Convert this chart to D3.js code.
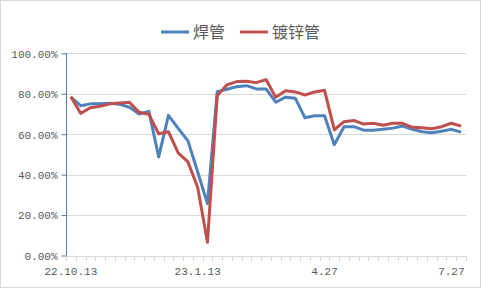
<!DOCTYPE html>
<html lang="zh">
<head>
<meta charset="UTF-8">
<title>焊管 镀锌管</title>
<script src="https://d3js.org/d3.v7.min.js"></script>
<style>
body { margin: 0; background: #fff; }
.tick-label { font-family: "Liberation Mono", "DejaVu Sans Mono", monospace; font-size: 11px; fill: #595959; }
.legend-text { font-family: "Noto Sans CJK SC", sans-serif; font-size: 16px; fill: #595959; }
</style>
</head>
<body>
<div id="chart"></div>
<script>
// 数据（按图读取，单位 %）
var seriesNames = ["焊管", "镀锌管"];
var hanguan = [78.3, 74.1, 75.0, 75.1, 75.3, 74.8, 73.3, 70.0, 71.3, 48.8,
               69.3, 62.9, 56.7, 41.3, 25.7, 81.0, 82.2, 83.5, 84.0, 82.4,
               82.4, 75.8, 78.3, 77.8, 68.1, 69.1, 69.1, 54.8, 63.7, 63.7,
               62.0, 62.0, 62.4, 63.0, 64.0, 62.4, 61.2, 60.7, 61.5, 62.4, 61.0];
var duxinguan = [78.5, 70.3, 73.1, 73.8, 75.0, 75.4, 75.8, 70.8, 69.8, 60.2,
                 61.2, 50.8, 46.3, 33.6, 6.6, 79.0, 84.4, 86.0, 86.2, 85.5,
                 87.0, 78.3, 81.5, 80.9, 79.4, 80.9, 81.7, 62.2, 66.2, 66.8,
                 65.0, 65.4, 64.4, 65.4, 65.4, 63.4, 63.2, 62.7, 63.7, 65.4, 64.0];
var xLabelIndex = [0, 13, 26, 39];
var xLabels = ["22.10.13", "23.1.13", "4.27", "7.27"];
var yTicks = [0, 20, 40, 60, 80, 100];
var colors = ["#4f81bd", "#c0504d"];

var W = 482, H = 290;
var mLeft = 66, mRight = 466, mTop = 53.3, mBottom = 255.5;

var svg = d3.select("#chart").append("svg")
    .attr("width", W)
    .attr("height", H);

// 外框
svg.append("rect")
    .attr("x", 0.5).attr("y", 0.5)
    .attr("width", W - 2).attr("height", H - 3)
    .attr("fill", "#fff")
    .attr("stroke", "#d9d9d9");

var idx = d3.range(hanguan.length);
var x = d3.scalePoint().domain(idx).range([mLeft, mRight]).padding(0.5);
var band = (mRight - mLeft) / idx.length;
var y = d3.scaleLinear().domain([0, 100]).range([mBottom, mTop]);

// 网格线
svg.append("g")
    .selectAll("line")
    .data(yTicks.filter(function(d) { return d > 0; }))
    .enter().append("line")
    .attr("x1", mLeft).attr("x2", mRight)
    .attr("y1", function(d) { return Math.round(y(d)) + 0.5; })
    .attr("y2", function(d) { return Math.round(y(d)) + 0.5; })
    .attr("stroke", "#d9d9d9");

// x 轴
svg.append("line")
    .attr("x1", mLeft).attr("x2", mRight)
    .attr("y1", Math.round(mBottom) + 0.5).attr("y2", Math.round(mBottom) + 0.5)
    .attr("stroke", "#d9d9d9");
svg.append("g")
    .selectAll("line")
    .data(d3.range(idx.length + 1))
    .enter().append("line")
    .attr("x1", function(i) { return Math.round(mLeft + i * band) + 0.5; })
    .attr("x2", function(i) { return Math.round(mLeft + i * band) + 0.5; })
    .attr("y1", Math.round(mBottom)).attr("y2", Math.round(mBottom) + 5)
    .attr("stroke", "#d9d9d9");

svg.append("g")
    .selectAll("text")
    .data(xLabelIndex)
    .enter().append("text")
    .attr("class", "tick-label")
    .attr("x", function(i) { return x(i); })
    .attr("y", 275)
    .attr("text-anchor", "middle")
    .text(function(d, k) { return xLabels[k]; });

// y 轴
var yAxis = d3.axisLeft(y)
    .tickValues(yTicks)
    .tickSize(5)
    .tickFormat(function(d) { return d.toFixed(2) + "%"; });
var gy = svg.append("g")
    .attr("transform", "translate(" + (mLeft + 0.5) + ",0)")
    .call(yAxis);
gy.select(".domain").attr("stroke", "#5b7ca6").attr("d", "M0," + mTop + "V" + mBottom);
gy.selectAll(".tick line").attr("stroke", "#5b7ca6");
gy.selectAll(".tick text")
    .attr("class", "tick-label")
    .attr("x", -9)
    .attr("dy", "0.35em");

// 折线
var line = d3.line()
    .x(function(d, i) { return x(i); })
    .y(function(d) { return y(d); });

[hanguan, duxinguan].forEach(function(s, k) {
    svg.append("path")
        .datum(s)
        .attr("fill", "none")
        .attr("stroke", colors[k])
        .attr("stroke-width", 3)
        .attr("stroke-linejoin", "round")
        .attr("d", line);
});

// 图例
var legendX = [161, 240];
seriesNames.forEach(function(name, k) {
    var g = svg.append("g").attr("transform", "translate(" + legendX[k] + ",32)");
    g.append("line")
        .attr("x1", 0).attr("x2", 28)
        .attr("stroke", colors[k])
        .attr("stroke-width", 3);
    g.append("text")
        .attr("class", "legend-text")
        .attr("x", 32)
        .attr("dy", "0.35em")
        .text(name);
});
</script>
</body>
</html>
